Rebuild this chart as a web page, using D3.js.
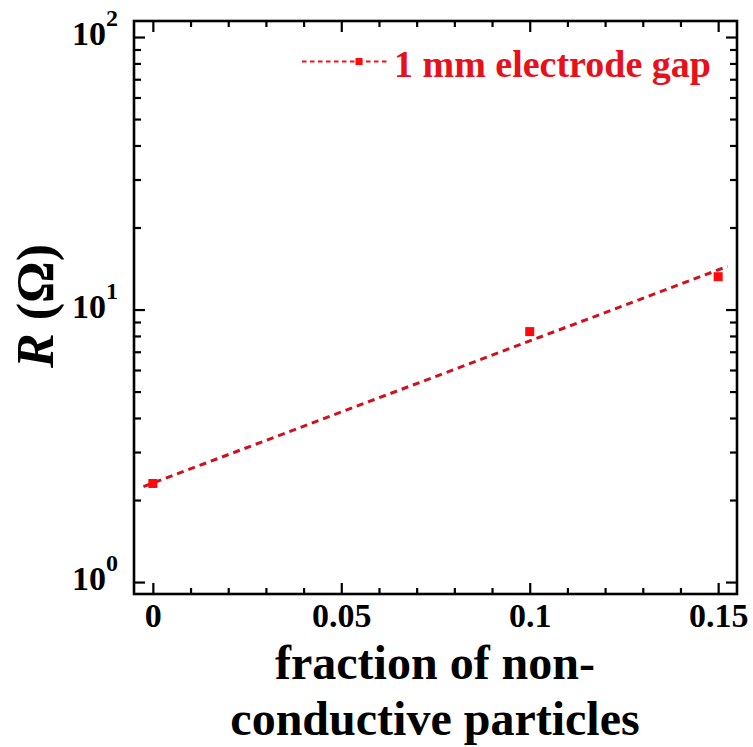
<!DOCTYPE html>
<html>
<head>
<meta charset="utf-8">
<script src="https://cdn.jsdelivr.net/npm/d3@7"></script>
<style>
  html, body { margin: 0; padding: 0; background: #fff; }
  svg { display: block; }
  text { font-family: "Liberation Serif", "Times New Roman", serif; font-weight: bold; }
</style>
</head>
<body>
<svg id="chart" width="753" height="747"></svg>
<script>
// Measured resistance vs. fraction of non-conductive particles
const fraction = [0, 0.1, 0.15];
const resistance = [2.30, 8.3, 13.2];

// Exponential fit (straight on the log axis), given by its two end points
const fitFraction = [-0.0025, 0.1525];
const fitResistance = [2.24, 14.4];

const seriesName = "1 mm electrode gap";

const xTicks = [0, 0.05, 0.1, 0.15];
const xTickLabels = ["0", "0.05", "0.1", "0.15"];
const yTicks = [1, 10, 100];
const yTickExponents = ["0", "1", "2"];

const svg = d3.select("#chart");
const plot = { left: 134, right: 737, top: 21, bottom: 594 };

const x = d3.scaleLinear().domain([-0.005, 0.155]).range([plot.left, plot.right]);
const y = d3.scaleLog().domain([0.904, 114.5]).range([plot.bottom, plot.top]);

const red = "#e8101a";
const lineRed = "#d0101e";

// minor tick positions
const xMinor = d3.range(0, 0.1501, 0.01).filter(v => Math.abs(v / 0.05 - Math.round(v / 0.05)) > 1e-6);
const yMinor = [];
[1, 10].forEach(d => d3.range(2, 10).forEach(m => yMinor.push(m * d)));

function drawAxis(axisFn, scale, transform, values, size, fmt, pad) {
  const g = svg.append("g").attr("transform", transform)
    .call(axisFn(scale).tickValues(values).tickSize(size).tickPadding(pad).tickFormat(fmt));
  g.select(".domain").remove();
  g.selectAll(".tick line").attr("stroke", "#000").attr("stroke-width", 2.2);
  return g;
}

// bottom axis
const gxb = drawAxis(d3.axisBottom, x, `translate(0,${plot.bottom})`, xTicks, -11, (d, i) => xTickLabels[i], 9);
gxb.selectAll(".tick text").attr("font-size", 34).attr("fill", "#000")
  .attr("font-family", "Liberation Serif").attr("font-weight", "bold").attr("dy", "0.71em");
drawAxis(d3.axisBottom, x, `translate(0,${plot.bottom})`, xMinor, -6, "", 0).selectAll("text").remove();

// top axis (mirror)
drawAxis(d3.axisTop, x, `translate(0,${plot.top})`, xTicks, -11, "", 0).selectAll("text").remove();
drawAxis(d3.axisTop, x, `translate(0,${plot.top})`, xMinor, -6, "", 0).selectAll("text").remove();

// left axis
drawAxis(d3.axisLeft, y, `translate(${plot.left},0)`, yTicks, -11, "", 0).selectAll("text").remove();
drawAxis(d3.axisLeft, y, `translate(${plot.left},0)`, yMinor, -7, "", 0).selectAll("text").remove();

// right axis (mirror)
drawAxis(d3.axisRight, y, `translate(${plot.right},0)`, yTicks, -11, "", 0).selectAll("text").remove();
drawAxis(d3.axisRight, y, `translate(${plot.right},0)`, yMinor, -7, "", 0).selectAll("text").remove();

// power-of-ten labels on the log axis
yTicks.forEach((v, i) => {
  const t = svg.append("text")
    .attr("x", 118).attr("y", y(v) + 8)
    .attr("text-anchor", "end")
    .attr("font-size", 34);
  t.append("tspan").text("10");
  t.append("tspan").attr("font-size", 24).attr("dy", -19).text(yTickExponents[i]);
});

// frame
svg.append("rect")
  .attr("x", plot.left).attr("y", plot.top)
  .attr("width", plot.right - plot.left).attr("height", plot.bottom - plot.top)
  .attr("fill", "none").attr("stroke", "#000").attr("stroke-width", 2.6);

// fit line
const line = d3.line().x(d => x(d[0])).y(d => y(d[1]));
svg.append("path")
  .datum(d3.zip(fitFraction, fitResistance))
  .attr("d", line)
  .attr("fill", "none")
  .attr("stroke", lineRed)
  .attr("stroke-width", 3)
  .attr("stroke-dasharray", "7,5");

// data markers
const ms = 9;
svg.append("g").selectAll("rect")
  .data(d3.zip(fraction, resistance))
  .join("rect")
  .attr("x", d => x(d[0]) - ms / 2)
  .attr("y", d => y(d[1]) - ms / 2)
  .attr("width", ms).attr("height", ms)
  .attr("fill", "#ff0a0a");

// legend
const lg = svg.append("g");
lg.append("line")
  .attr("x1", 302).attr("x2", 387).attr("y1", 61.5).attr("y2", 61.5)
  .attr("stroke", red).attr("stroke-width", 2).attr("stroke-dasharray", "4.5,3.5");
lg.append("rect").attr("x", 355.5).attr("y", 58).attr("width", 7).attr("height", 7).attr("fill", "#ff0a0a");
lg.append("text")
  .attr("x", 394).attr("y", 77)
  .attr("font-size", 38).attr("fill", red)
  .text(seriesName);

// axis titles
const xt = svg.append("text")
  .attr("text-anchor", "middle").attr("font-size", 48);
xt.append("tspan").attr("x", 435).attr("y", 679).text("fraction of non-");
xt.append("tspan").attr("x", 435).attr("y", 735).text("conductive particles");

const yt = svg.append("text")
  .attr("transform", "translate(53,306) rotate(-90)")
  .attr("text-anchor", "middle").attr("font-size", 52);
yt.append("tspan").attr("font-style", "italic").text("R");
yt.append("tspan").text(" (Ω)");
</script>
</body>
</html>
